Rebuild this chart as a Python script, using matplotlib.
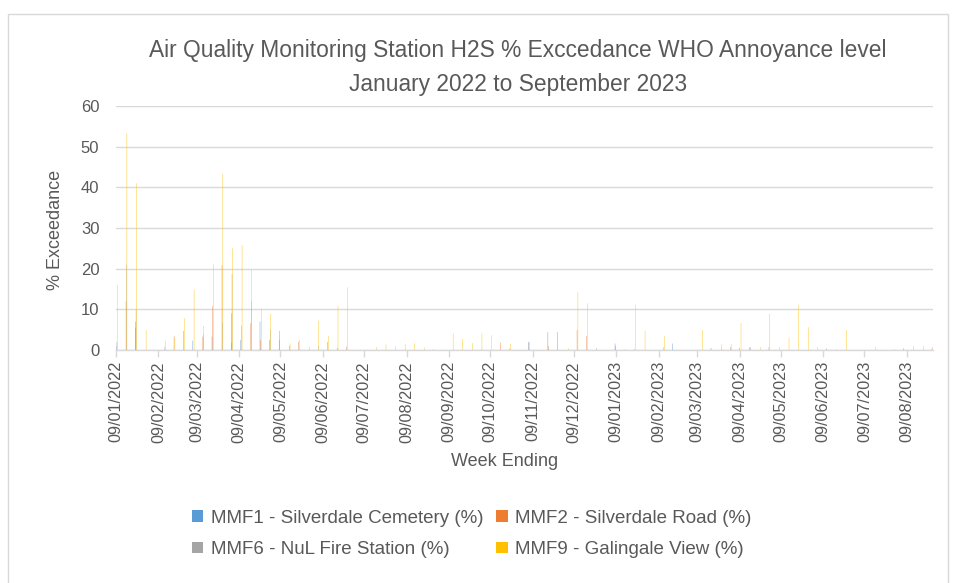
import matplotlib
matplotlib.use("Agg")
import matplotlib.pyplot as plt
import matplotlib.dates as mdates
from matplotlib.patches import Patch, Rectangle
import pandas as pd
import numpy as np

plt.rcParams['font.family'] = ['Liberation Sans', 'DejaVu Sans']

# Week-ending dates (weekly, starting 09/01/2022)
weeks = pd.date_range('2022-01-09', periods=86, freq='7D')

mmf1 = [1, 0, 5.5, 0, 0, 0, 0, 0, 2.3, 0,
        3.3, 0, 1.8, 2.5, 0, 7, 2.5, 2.5, 0, 0,
        0, 0, 0, 0, 0, 0, 0, 0, 0, 0,
        0, 0, 0, 0, 0, 0, 0, 0, 0, 0,
        0, 0, 0, 1.9, 0, 4.4, 4.4, 0, 0, 0,
        0, 0, 1.6, 0, 0, 0, 0, 0, 1.6, 0,
        0, 0, 0.5, 0, 0, 0.5, 0, 0, 0, 0,
        0, 0, 0, 0, 0, 0, 0, 0, 0, 0,
        0, 0, 0, 0, 0, 0]
mmf2 = [0, 12, 7, 0, 0, 0, 3.4, 4.7, 0, 3.3,
        10.8, 20.9, 9, 0, 6.6, 2.5, 0, 4.7, 1, 2,
        0, 0, 2, 0.5, 0.8, 0, 0, 0, 0, 0,
        0, 0, 0, 0, 0, 0, 0, 0, 0, 0,
        1.8, 0.4, 0, 2, 0, 1, 0, 0, 4.9, 3.4,
        0, 0, 1, 0, 0.2, 0, 0, 0, 0, 0,
        0, 0, 0, 0, 0.7, 0, 0.7, 0, 0.7, 0,
        0, 0, 0, 0, 0.4, 0, 0, 0, 0, 0,
        0, 0, 0.4, 0, 0, 0.7]
mmf6 = [2, 21, 10, 0, 0, 0.8, 0, 0, 0, 3.9,
        0, 6.7, 18.7, 6, 11.9, 0, 5, 0, 0, 0,
        0, 1, 0, 0, 0, 0, 0, 0, 0, 0,
        0, 0, 0, 0.2, 0, 0, 0, 0, 0, 0,
        0, 0, 0, 0, 0, 0, 0, 0, 0, 0,
        0.5, 0, 0, 0.2, 0, 0, 0, 0.7, 0, 0,
        0, 0, 0, 0.3, 0, 0, 0.7, 0, 0, 0,
        0, 0, 0, 0, 0, 0.2, 0, 0, 0, 0,
        0, 0.2, 0, 0, 0, 0]
mmf9 = [16, 53.3, 41, 4.9, 0, 2.3, 3.0, 7.8, 14.9, 5.9,
        21.1, 43.3, 25, 25.8, 19.7, 10.2, 8.9, 0, 1.6, 2.5,
        0.7, 7.2, 3.4, 10.8, 15.4, 0, 0, 0.7, 1.4, 1,
        1.4, 1.6, 0.6, 0, 0, 4.1, 2.7, 1.7, 4.1, 3.6,
        0, 1.5, 0, 0, 0, 0, 0, 0.4, 14.2, 11.5,
        0, 0, 0, 0, 11.1, 4.7, 0, 3.4, 0, 0,
        0, 4.9, 0, 1.4, 1.4, 6.6, 0, 0.7, 8.9, 0.7,
        3.1, 11, 5.6, 0.7, 0, 0, 4.9, 0, 0, 0.7,
        0, 0, 0, 1, 1, 0]

series_names = ['MMF1 - Silverdale Cemetery (%)', 'MMF2 - Silverdale Road (%)',
                'MMF6 - NuL Fire Station (%)', 'MMF9 - Galingale View (%)']
series_values = [mmf1, mmf2, mmf6, mmf9]
colors = ['#5B9BD5', '#ED7D31', '#A5A5A5', '#FFC000']

tick_dates = pd.date_range('2022-01-09', periods=20, freq=pd.DateOffset(months=1))
tick_labels = [d.strftime('%d/%m/%Y') for d in tick_dates]

title_lines = ['Air Quality Monitoring Station H2S % Exccedance WHO Annoyance level',
               'January 2022 to September 2023']

W, H = 955, 583
fig = plt.figure(figsize=(W / 100, H / 100), dpi=100)
ax = fig.add_axes([116 / W, 1 - 350 / H, (933 - 116) / W, (350 - 106) / H])

xbase = mdates.date2num(weeks.to_pydatetime())
bw = 0.3
for i, (vals, c) in enumerate(zip(series_values, colors)):
    bars = ax.bar(xbase + 0.5 + (i - 1.5) * bw, vals, width=bw, color=c, linewidth=0,
                  label=series_names[i], zorder=3)
    for b in bars:
        b.set_snap(False)

x0 = mdates.date2num(weeks[0].to_pydatetime())
ax.set_xlim(x0, xbase[-1] + 1)
ax.set_ylim(0, 60)
ax.set_yticks(range(0, 61, 10))

grey_txt = '#595959'
ax.set_xticks(mdates.date2num(tick_dates.to_pydatetime()))
ax.set_xticklabels(tick_labels, rotation=90, fontsize=11.7, color=grey_txt)
ax.tick_params(axis='x', length=5, color='#D9D9D9', width=1, pad=3)
ax.tick_params(axis='y', length=0, labelsize=12, labelcolor=grey_txt, pad=12)
ax.grid(axis='y', color='#D9D9D9', linewidth=1, zorder=0)
for s in ['top', 'right', 'left']:
    ax.spines[s].set_visible(False)
ax.spines['bottom'].set_color('#D9D9D9')
ax.spines['bottom'].set_linewidth(1)

fig.text(518 / W, 1 - 50 / H, title_lines[0], ha='center', va='center', fontsize=16.4, color=grey_txt)
fig.text(518 / W, 1 - 84 / H, title_lines[1], ha='center', va='center', fontsize=16.4, color=grey_txt)
fig.text(55 / W, 1 - 230 / H, '% Exceedance', rotation=90, ha='center', va='center', fontsize=13, color=grey_txt)
fig.text(505 / W, 1 - 461 / H, 'Week Ending', ha='center', va='center', fontsize=13, color=grey_txt)

order = [0, 2, 1, 3]
handles = [Patch(facecolor=colors[k], edgecolor='none') for k in order]
labels = [series_names[k] for k in order]
fig.legend(handles, labels, ncol=2, loc='upper left',
           bbox_to_anchor=(192 / W, 1 - 510 / H), frameon=False, fontsize=13.5,
           handlelength=0.6, handleheight=0.6, handletextpad=0.4,
           columnspacing=0.7, labelspacing=0.75, borderpad=0, borderaxespad=0,
           labelcolor=grey_txt)

fig.patches.append(Rectangle((8 / W, -0.05), 940 / W, 1.05 - 14 / H, transform=fig.transFigure,
                             fill=False, edgecolor='#D9D9D9', linewidth=1))

fig.savefig('out.png', dpi=100)
